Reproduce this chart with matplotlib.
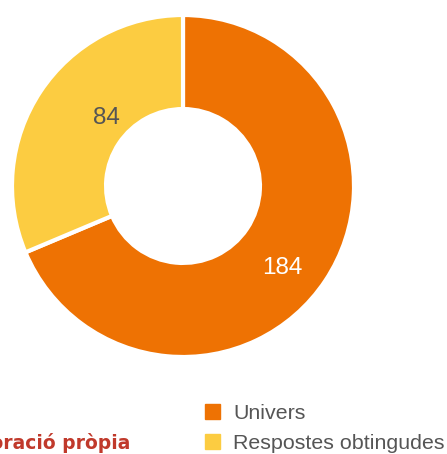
import numpy as np
import matplotlib
matplotlib.use('Agg')
import matplotlib.pyplot as plt

labels = ['Univers', 'Respostes obtingudes']
values = [184, 84]
colors = ['#EE7203', '#FCCC41']
label_colors = ['white', '#555555']
label_radius = [0.75, 0.6]
label_shift = [-6, -8]   # degrees, clockwise nudge from the slice middle

plt.rcParams['font.family'] = ['Liberation Sans', 'DejaVu Sans']

fig = plt.figure(figsize=(4.47, 4.54), dpi=100)
ax = fig.add_axes([12/447, 97/454, 342/447, 342/454])

wedges, _ = ax.pie(values, colors=colors, startangle=90, counterclock=False,
                   radius=1, wedgeprops=dict(width=0.55, edgecolor='white', linewidth=3))
ax.set_xlim(-1, 1)
ax.set_ylim(-1, 1)
ax.set_aspect('equal')
ax.axis('off')

# value labels inside each slice
for w, v, c, r, s in zip(wedges, values, label_colors, label_radius, label_shift):
    ang = np.deg2rad((w.theta1 + w.theta2) / 2 + s)
    ax.text(r*np.cos(ang), r*np.sin(ang), str(v), color=c, fontsize=17.5,
            ha='center', va='center')

# legend
handles = [plt.Rectangle((0, 0), 1, 1, color=c) for c in colors]
fig.legend(handles, labels, loc='lower left', bbox_to_anchor=(190/447, -0.03),
           frameon=False, fontsize=15.4, labelcolor='#555555',
           handlelength=0.72, handleheight=0.72, handletextpad=0.6,
           labelspacing=0.5, borderpad=0.2)

fig.text(130/447, 1/454, 'Font: Elaboració pròpia', color='#C0392B',
         fontsize=13.5, fontweight='bold',
         ha='right', va='bottom', family=['DejaVu Sans'])

fig.savefig('out.png', dpi=100)
